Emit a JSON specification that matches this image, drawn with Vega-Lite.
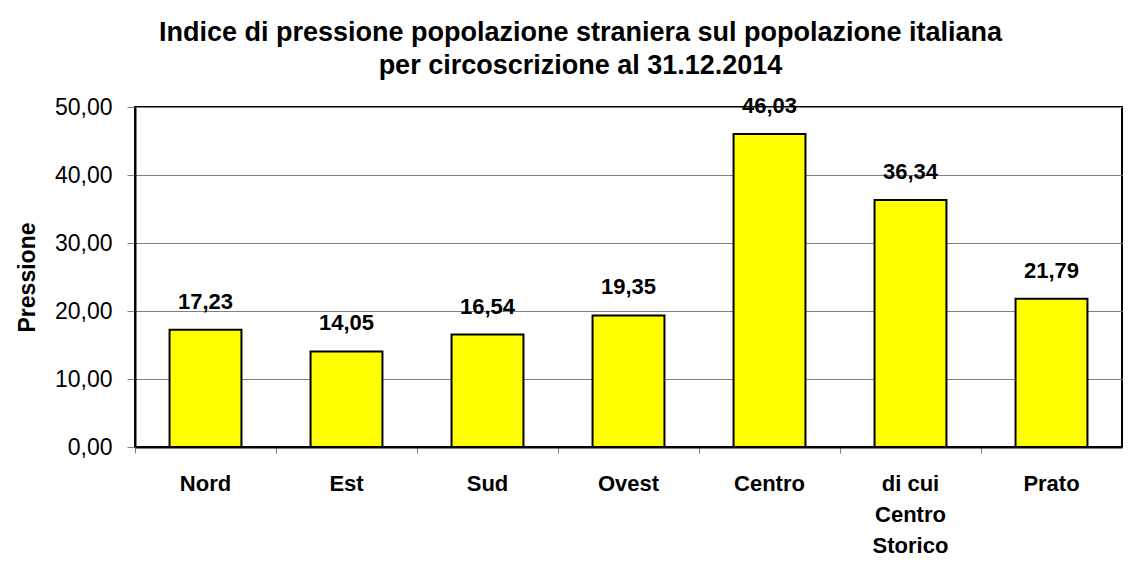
{
  "$schema": "https://vega.github.io/schema/vega-lite/v6.json",
  "autosize": "none",
  "width": 987,
  "height": 340,
  "padding": {"left": 135, "top": 107, "right": 17, "bottom": 116},
  "background": "white",
  "config": {
    "font": "Liberation Sans",
    "locale": {"number": {"decimal": ",", "thousands": ".", "grouping": [3], "currency": ["€", ""]}},
    "view": {"stroke": "black", "strokeWidth": 2}
  },
  "title": {
    "text": ["Indice di pressione popolazione straniera sul popolazione italiana", "per circoscrizione al 31.12.2014"],
    "font": "Liberation Sans",
    "fontSize": 27,
    "fontWeight": "bold",
    "color": "black",
    "lineHeight": 33,
    "anchor": "middle",
    "frame": "group",
    "dx": -48,
    "offset": 15
  },
  "data": {
    "values": [
      {"zona": "Nord", "pressione": 17.23},
      {"zona": "Est", "pressione": 14.05},
      {"zona": "Sud", "pressione": 16.54},
      {"zona": "Ovest", "pressione": 19.35},
      {"zona": "Centro", "pressione": 46.03},
      {"zona": "di cui Centro Storico", "pressione": 36.34},
      {"zona": "Prato", "pressione": 21.79}
    ]
  },
  "encoding": {
    "x": {
      "field": "zona",
      "type": "nominal",
      "sort": null,
      "scale": {"paddingInner": 0, "paddingOuter": 0},
      "axis": {
        "title": null,
        "bandPosition": 0,
        "labelOffset": 0,
        "labelAngle": 0,
        "labelFont": "Liberation Sans",
        "labelFontSize": 22,
        "labelFontWeight": "bold",
        "labelColor": "black",
        "labelPadding": 37,
        "labelLineHeight": 31,
        "labelBaseline": "alphabetic",
        "labelExpr": "datum.value == 'di cui Centro Storico' ? ['di cui', 'Centro', 'Storico'] : datum.value",
        "tickColor": "#808080",
        "tickSize": 6,
        "domainColor": "black",
        "domainWidth": 2,
        "grid": false
      }
    },
    "y": {
      "field": "pressione",
      "type": "quantitative",
      "scale": {"domain": [0, 50], "nice": false},
      "axis": {
        "title": "Pressione",
        "titleFont": "Liberation Sans",
        "titleFontSize": 23,
        "titleFontWeight": "bold",
        "titleColor": "black",
        "titlePadding": 15,
        "values": [0, 10, 20, 30, 40, 50],
        "format": ".2f",
        "labelFont": "Liberation Sans",
        "labelFontSize": 23,
        "labelColor": "black",
        "labelPadding": 15,
        "tickColor": "#808080",
        "tickSize": 8,
        "domainColor": "black",
        "domainWidth": 2,
        "grid": true,
        "gridColor": "#808080",
        "gridWidth": 1
      }
    }
  },
  "layer": [
    {
      "mark": {"type": "bar", "width": {"band": 0.51}, "color": "#FFFF00", "stroke": "black", "strokeWidth": 2}
    },
    {
      "mark": {"type": "text", "baseline": "alphabetic", "dy": -21, "font": "Liberation Sans", "fontSize": 22, "fontWeight": "bold", "color": "black"},
      "encoding": {"text": {"field": "pressione", "type": "quantitative", "format": ".2f"}}
    }
  ]
}
